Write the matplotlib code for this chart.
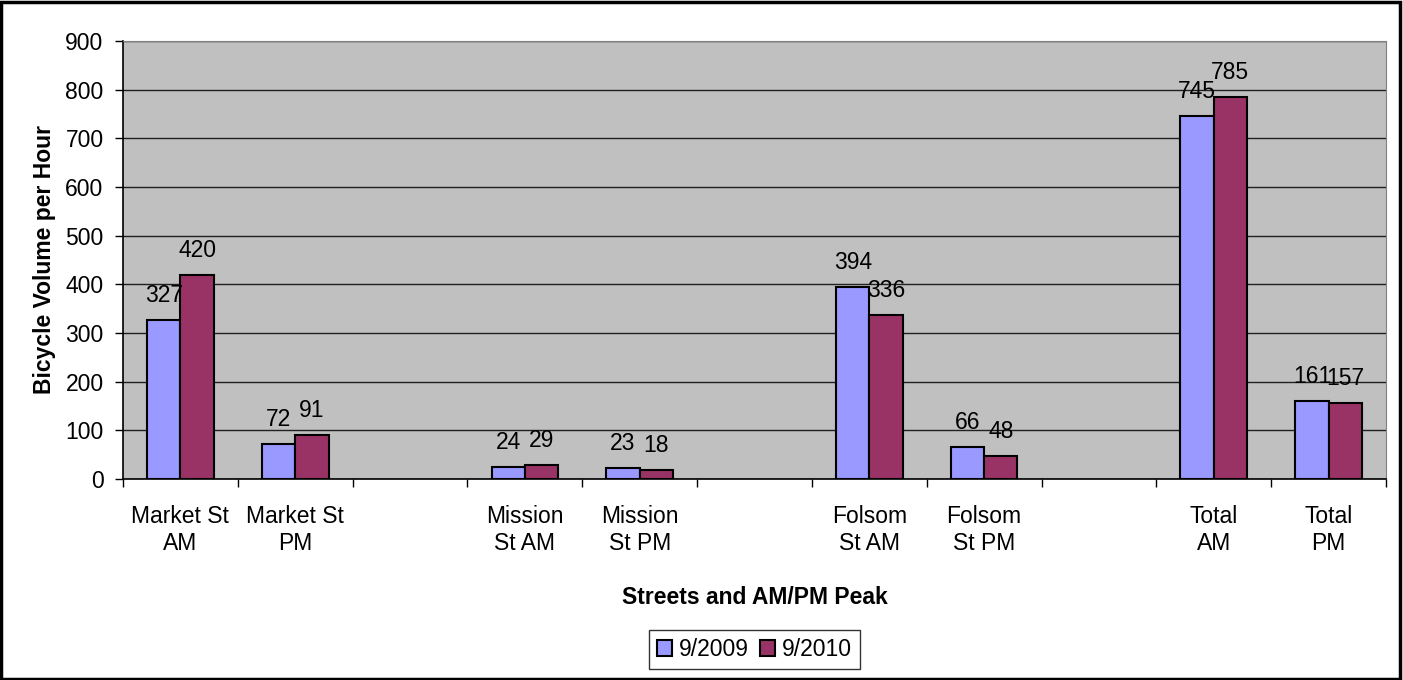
import numpy as np
import matplotlib.pyplot as plt
from matplotlib.patches import Rectangle

plt.rcParams['font.family'] = ['Liberation Sans', 'DejaVu Sans']

# Street / peak categories, blank entries are spacer slots
categories = ['Market St\nAM', 'Market St\nPM', '',
              'Mission\nSt AM', 'Mission\nSt PM', '',
              'Folsom\nSt AM', 'Folsom\nSt PM', '',
              'Total\nAM', 'Total\nPM']
vol_2009 = [327, 72, None, 24, 23, None, 394, 66, None, 745, 161]
vol_2010 = [420, 91, None, 29, 18, None, 336, 48, None, 785, 157]
series_names = ['9/2009', '9/2010']
colors = ['#9999FF', '#993366']
yticks = [0, 100, 200, 300, 400, 500, 600, 700, 800, 900]

fig = plt.figure(figsize=(14.03, 6.80), dpi=100)
ax = fig.add_axes([123/1403, 1 - 479/680, (1386 - 123)/1403, (479 - 41)/680])
ax.set_facecolor('#C0C0C0')

width = 0.29
x = np.arange(len(categories))
for k, (vals, name, col) in enumerate(zip([vol_2009, vol_2010], series_names, colors)):
    idx = [i for i, v in enumerate(vals) if v is not None]
    heights = [vals[i] for i in idx]
    pos = x[idx] + (k - 0.5) * width
    ax.bar(pos, heights, width, color=col, edgecolor='black',
           linewidth=1.5, label=name, zorder=3)
    for p, h in zip(pos, heights):
        ax.annotate(str(h), (p, h), xytext=(0, 13), textcoords='offset points',
                    ha='center', va='baseline', fontsize=16.5, zorder=4)

ax.set_xlim(-0.5, len(categories) - 0.5)
ax.set_ylim(0, 900)
ax.set_yticks(yticks)
ax.yaxis.grid(True, color='#202020', linewidth=1, zorder=0)
ax.set_axisbelow(True)

# category boundaries get tick marks, labels sit at the centres
ax.set_xticks(np.arange(-0.5, len(categories), 1.0))
ax.set_xticklabels([])
ax.set_xticks(x, minor=True)
ax.set_xticklabels(categories, minor=True, fontsize=16.5)
ax.tick_params(axis='x', which='minor', length=0, pad=19)
ax.tick_params(axis='x', which='major', length=6, width=1, color='black')
ax.tick_params(axis='y', length=6, width=1, pad=8, labelsize=16.5)

for s in ['top', 'right']:
    ax.spines[s].set_color('#808080')
for s in ['left', 'bottom']:
    ax.spines[s].set_color('black')
    ax.spines[s].set_linewidth(1.2)

ax.set_ylabel('Bicycle Volume per Hour', fontsize=16.5, fontweight='bold', labelpad=7)
ax.set_xlabel('Streets and AM/PM Peak', fontsize=16.5, fontweight='bold', labelpad=22)

leg = ax.legend(loc='upper center', bbox_to_anchor=(0.5, -0.345), ncol=2,
                fontsize=16.5, frameon=True, fancybox=False, shadow=False,
                handlelength=0.65, handleheight=0.65, handletextpad=0.3,
                columnspacing=0.5, borderpad=0.35, borderaxespad=0)
leg.get_frame().set_edgecolor('black')
leg.get_frame().set_linewidth(1)

# outer chart border
fig.patches.append(Rectangle((0.001, 0.002), 0.997, 0.995, transform=fig.transFigure,
                             fill=False, edgecolor='black', linewidth=2.5))

fig.savefig('out.png', dpi=100)
